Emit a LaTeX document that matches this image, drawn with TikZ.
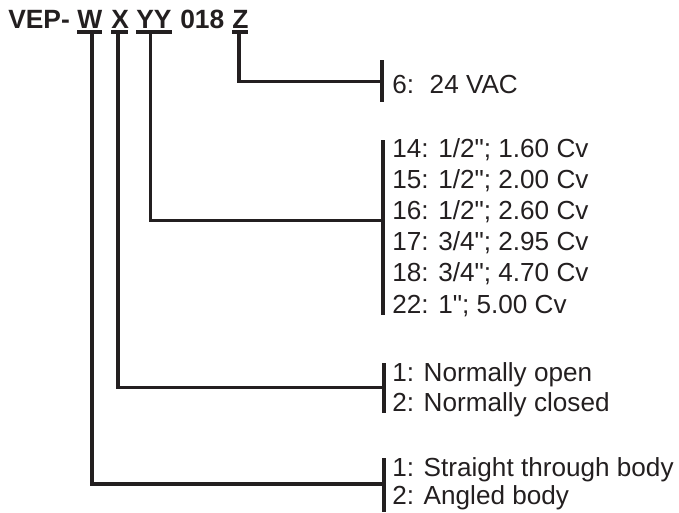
\documentclass[tikz,border=0pt]{standalone}
\usepackage{fontspec}
\setmainfont{Liberation Sans}[Ligatures=TeXOff]
\begin{document}
\begin{tikzpicture}[x=0.75pt,y=-0.75pt,
  ink/.style={line width=2.3pt,draw=inkc},
  lbl/.style={anchor=base west,inner sep=0pt,text=inkc,font=\fontsize{19.6pt}{22pt}\selectfont},
  ttl/.style={anchor=base west,inner sep=0pt,text=inkc,font=\fontsize{19.8pt}{22pt}\selectfont\bfseries}]
\definecolor{inkc}{HTML}{231F20}
\useasboundingbox (0,0) rectangle (679,512);
% title
\node[ttl] (vep) at (8,28) {VEP-};
\node[ttl] (w) at (77,28) {W};
\node[ttl] (x) at (111,28) {X};
\node[ttl] (yy) at (136,28) {YY};
\node[ttl] (n018) at (180,28) {018};
\node[ttl] (z) at (232,28) {Z};
% underlines
\coordinate (wUl) at (77,32); \coordinate (wUr) at (102,32);
\coordinate (xUl) at (111,32); \coordinate (xUr) at (128,32);
\coordinate (yUl) at (136,32); \coordinate (yUr) at (172,32);
\coordinate (zUl) at (232,32); \coordinate (zUr) at (248,32);
\draw[ink] (wUl) -- (wUr);
\draw[ink] (xUl) -- (xUr);
\draw[ink] (yUl) -- (yUr);
\draw[ink] (zUl) -- (zUr);
% stems
\coordinate (wS) at (92,32); \coordinate (xS) at (118,32);
\coordinate (yS) at (150.5,32); \coordinate (zS) at (239,32);
% bars
\coordinate (zBt) at (382,60); \coordinate (zBb) at (382,102); \coordinate (zB) at (382,81.5);
\coordinate (yBt) at (383,140); \coordinate (yBb) at (383,315); \coordinate (yB) at (383,220.5);
\coordinate (xBt) at (384,363); \coordinate (xBb) at (384,413); \coordinate (xB) at (384,387.5);
\coordinate (wBt) at (384,458); \coordinate (wBb) at (384,512); \coordinate (wB) at (384,484);
\draw[ink] (zBt) -- (zBb);
\draw[ink] (yBt) -- (yBb);
\draw[ink] (xBt) -- (xBb);
\draw[ink] (wBt) -- (wBb);
% connectors
\draw[ink] (zS) |- (zB);
\draw[ink] (yS) |- (yB);
\draw[ink] (xS) |- (xB);
\draw[ink] (wS) |- (wB);
% labels
\node[lbl] (z6) at (392,93) {6:\hspace{0.6em}24 VAC};
\node[lbl] (y14) at (392,157) {14: 1/2"; 1.60 Cv};
\node[lbl] (y15) at (392,188.2) {15: 1/2"; 2.00 Cv};
\node[lbl] (y16) at (392,219.4) {16: 1/2"; 2.60 Cv};
\node[lbl] (y17) at (392,250.6) {17: 3/4"; 2.95 Cv};
\node[lbl] (y18) at (392,281.8) {18: 3/4"; 4.70 Cv};
\node[lbl] (y22) at (392,313) {22: 1"; 5.00 Cv};
\node[lbl] (x1) at (392,381.5) {1: Normally open};
\node[lbl] (x2) at (392,411.5) {2: Normally closed};
\node[lbl] (w1) at (392,476) {1: Straight through body};
\node[lbl] (w2) at (392,504.5) {2: Angled body};
\end{tikzpicture}
\end{document}
